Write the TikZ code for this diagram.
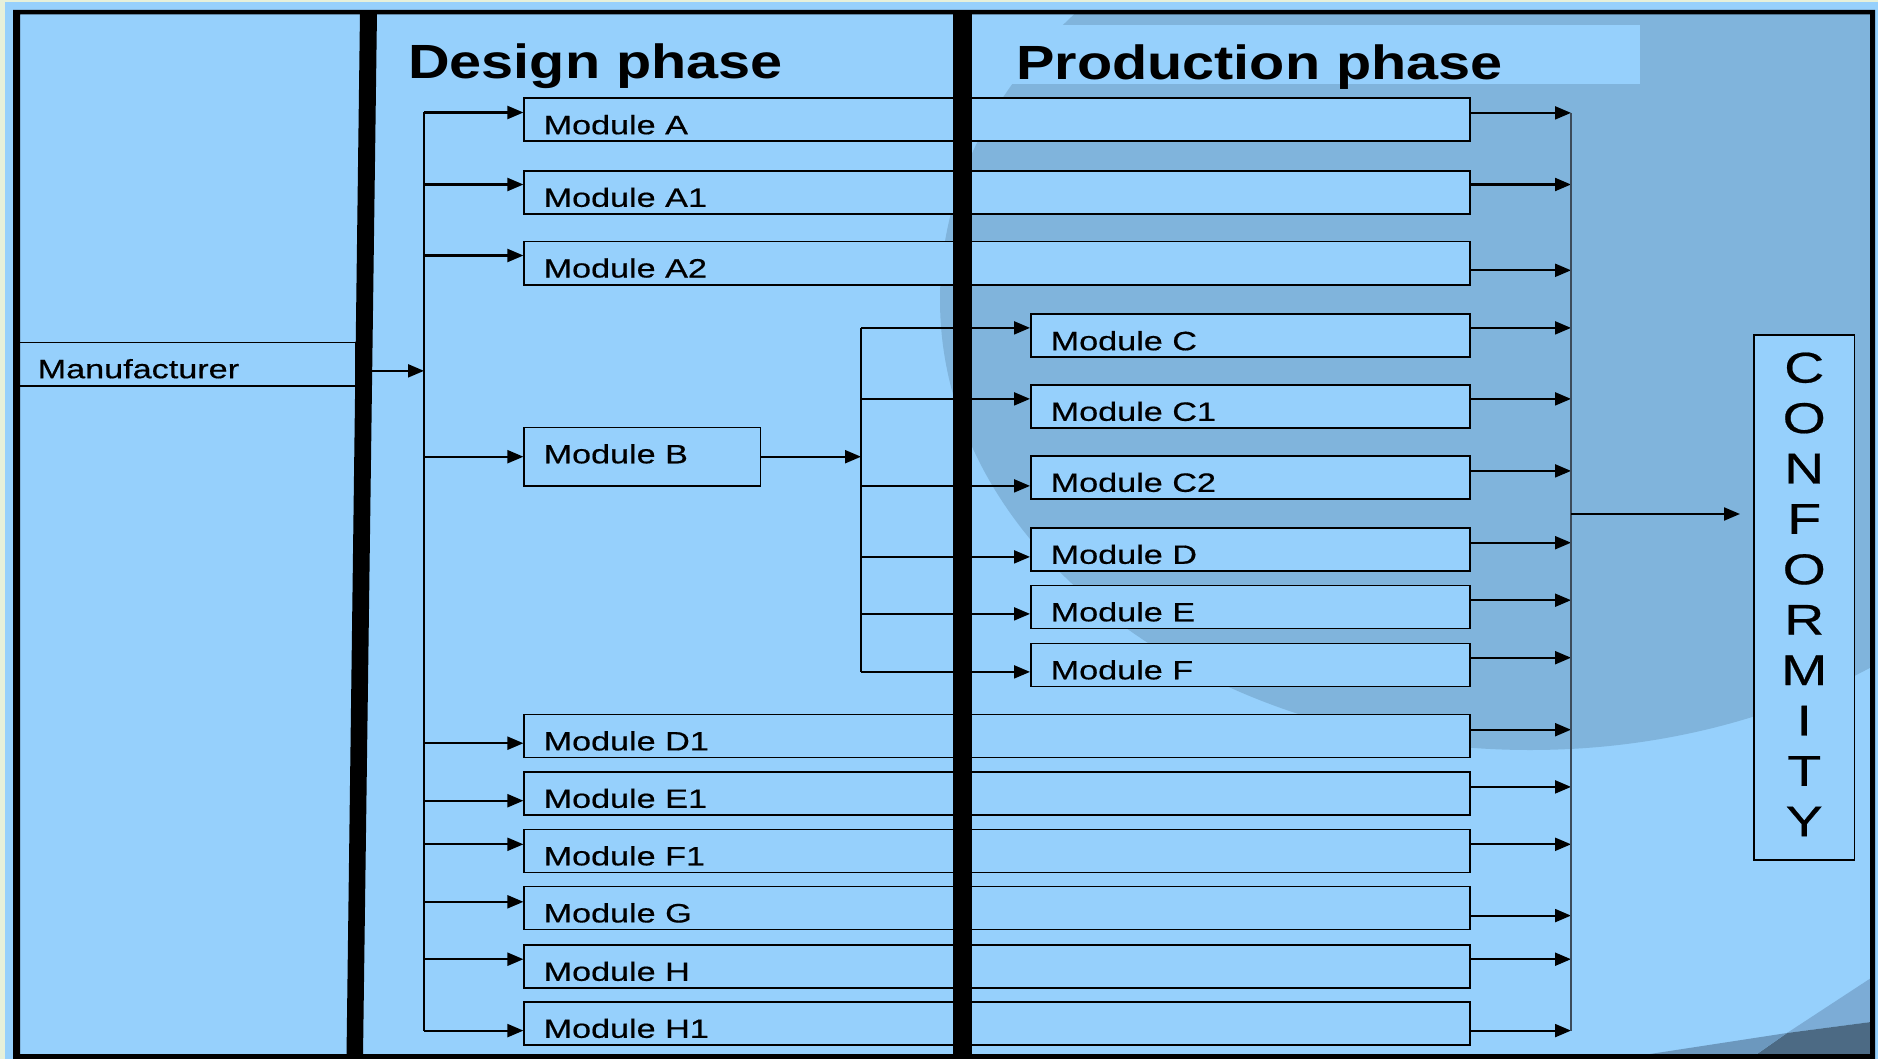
\documentclass[tikz,border=0pt]{standalone}
\usepackage{fontspec}
\setmainfont{Liberation Sans}
\newfontfamily\modfont[FakeStretch=1.29,FakeBold=0.5]{Liberation Sans}
\newfontfamily\headfont[FakeStretch=1.2]{Liberation Sans}
\usetikzlibrary{arrows.meta,calc}
\definecolor{bgblue}{RGB}{150,208,252}
\definecolor{dkblue}{RGB}{128,180,220}
\definecolor{cream}{RGB}{230,240,218}
\definecolor{slate}{RGB}{76,106,132}
\definecolor{wedgeA}{RGB}{108,152,190}
\definecolor{wedgeB}{RGB}{124,172,214}
\definecolor{colgray}{RGB}{60,75,90}
\begin{document}
\begin{tikzpicture}[x=1pt,y=-1pt,
  modbox/.style={draw=black, line width=1.8pt, fill=bgblue, inner sep=0pt, minimum height=43pt, anchor=north west},
  modtext/.style={font=\modfont\fontsize{26.5}{28}\selectfont, anchor=base west, inner sep=0pt},
  conftext/.style={font=\modfont\fontsize{43}{45}\selectfont, anchor=base, inner sep=0pt},
  headtext/.style={font=\headfont\bfseries\fontsize{48}{50}\selectfont, anchor=base west, inner sep=0pt},
  conn/.style={line width=2.1pt, -{Triangle[length=16pt,width=13pt]}},
  busline/.style={line width=1.9pt},
  colline/.style={line width=1.5pt, draw=colgray}]
\useasboundingbox (0,0) rectangle (1878,1059);
% background
\fill[bgblue] (0,0) rectangle (1878,1059);
\fill[cream] (0,0) rectangle (1878,2.5);
\fill[cream] (0,0) rectangle (5,1059);
\begin{scope}
  \clip (20,14.5) rectangle (1870,1054);
  \fill[dkblue] (1530,300) ellipse [x radius=590pt, y radius=450pt];
  \fill[wedgeB] (1787,1033) -- (1871,978) -- (1871,1022) -- cycle;
  \fill[slate] (1757,1054) -- (1787,1033) -- (1871,1022) -- (1871,1054) -- cycle;
  \fill[wedgeA] (1650,1054) -- (1787,1033) -- (1757,1054) -- cycle;
\end{scope}
\fill[bgblue] (972,25.4) rectangle (1640,83.8);
% headings
\node[headtext] (dph) at (408,79) {Design phase};
\node[headtext] (pph) at (1016,79.4) {Production phase};
% manufacturer
\node[modbox, minimum width=338.2pt, minimum height=43.9pt] (Man) at (16.8,341.5) {};
\node[modtext] (Man-t) at ([xshift=20.7pt,yshift=9pt]Man.south west) {Manufacturer};
% long boxes
\foreach \n/\t/\y in {A/Module A/97.4, A1/Module A1/170, A2/Module A2/240.7,
  D1/Module D1/713.6, E1/Module E1/771, F1/Module F1/828.5, G/Module G/885.6,
  H/Module H/944, H1/Module H1/1001}{
  \node[modbox, minimum width=946pt] (\n) at (523.4,\y) {};
  \node[modtext] (\n-t) at ([xshift=20pt,yshift=8pt]\n.south west) {\t};
}
% short boxes
\foreach \n/\t/\y in {C/Module C/313.4, C1/Module C1/384, C2/Module C2/455,
  D/Module D/527, E/Module E/584.5, F/Module F/642.5}{
  \node[modbox, minimum width=439.4pt] (\n) at (1030,\y) {};
  \node[modtext] (\n-t) at ([xshift=20.5pt,yshift=8pt]\n.south west) {\t};
}
% module B
\node[modbox, minimum width=236.2pt, minimum height=58.4pt] (B) at (523.4,426.6) {};
\node[modtext] (B-t) at ([xshift=20pt,yshift=23.5pt]B.south west) {Module B};
% conformity
\node[draw=black, line width=1.8pt, fill=bgblue, inner sep=0pt, minimum width=100.6pt, minimum height=525pt, anchor=north west] (conf) at (1753,333.7) {};
\foreach \L [count=\i from 0] in {C,O,N,F,O,R,M,I,T,Y}{
  \node[conftext] (L\i) at ($(conf.north)+(0,48.9+50.4*\i)$) {\L};
}
% junction coordinates
\coordinate (bus) at (424,370);
\coordinate (br) at (861,455.7);
\coordinate (col) at (1571,514);
% left side
\draw[conn] ([yshift=-6.5pt]Man.east) -- ([yshift=-6.5pt]Man.east -| bus);
\draw[busline] ([yshift=7.3pt]A.west -| bus) -- ([yshift=-7.2pt]H1.west -| bus);
\foreach \n/\o in {A/7.3, A1/7.9, A2/7.6, B/0, D1/-7.2, E1/-7.3, F1/6.6, G/6.2, H/7.2, H1/-7.2}{
  \draw[conn] ([yshift=\o pt]\n.west -| bus) -- ([yshift=\o pt]\n.west);
}
% branch from B
\draw[conn] (B.east) -- (B.east -| br);
\draw[busline] ([yshift=7.9pt]C.west -| br) -- ([yshift=-7pt]F.west -| br);
\foreach \n/\o in {C/7.9, C1/7.5, C2/-8.5, D/-7.5, E/-7, F/-7}{
  \draw[conn] ([yshift=\o pt]\n.west -| br) -- ([yshift=\o pt]\n.west);
}
% right side
\foreach \n/\o in {A/6.9, A1/7.9, A2/-7.2, C/7.9, C1/7.5, C2/6.5, D/6.7, E/6.7, F/7.2,
  D1/6.3, E1/6.5, F1/6.6, G/-7.6, H/7.2, H1/-7.2}{
  \draw[conn] ([yshift=\o pt]\n.east) -- ([yshift=\o pt]\n.east -| col);
}
\draw[colline] ([yshift=6.9pt]A.east -| col) -- ([yshift=-7.2pt]H1.east -| col);
\draw[conn, shorten >=13pt] (col) -- (col -| conf.west);
% dividers
\fill[black] (360,12) -- (377,12) -- (363,1056) -- (346.5,1056) -- cycle;
\fill[black] (953,12) rectangle (972,1056);
% frame
\fill[black, even odd rule] (13,10) rectangle (1875,1060) (20,14.5) rectangle (1870,1054);
\end{tikzpicture}
\end{document}
